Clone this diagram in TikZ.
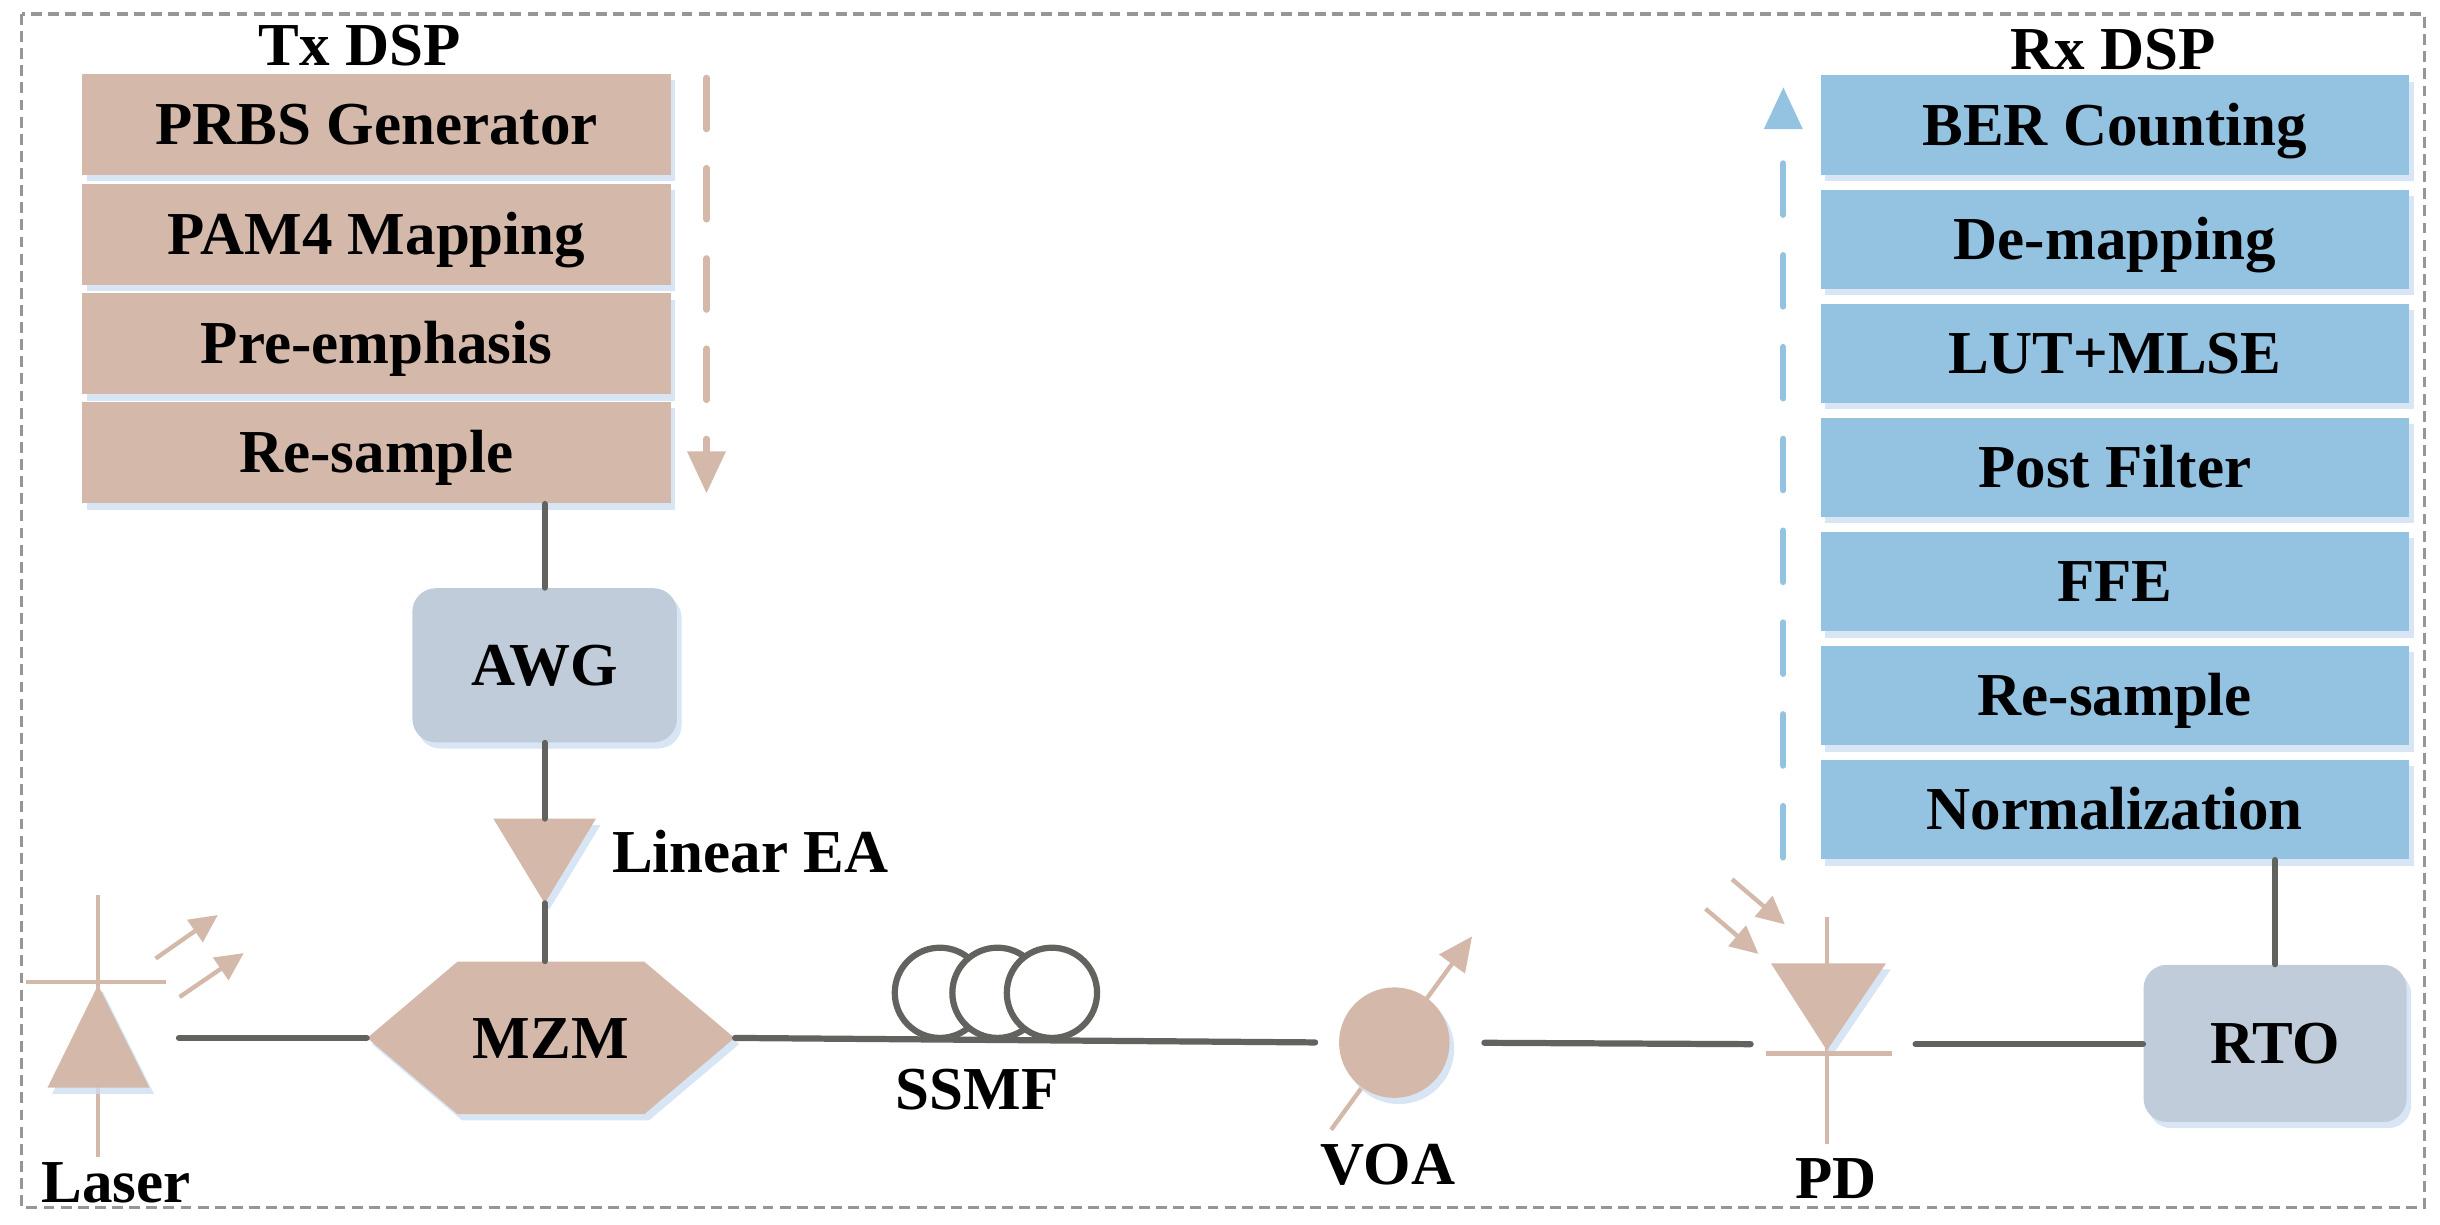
\documentclass[tikz,border=0pt]{standalone}
\usepackage{fontspec}
\setmainfont{Liberation Serif}
\usetikzlibrary{arrows.meta,shadows}
\definecolor{tan}{RGB}{212,184,170}
\definecolor{dspblue}{RGB}{148,194,225}
\definecolor{boxgray}{RGB}{193,204,218}
\definecolor{wire}{RGB}{98,99,94}
\definecolor{bordergray}{RGB}{150,150,150}
\definecolor{glow}{RGB}{205,222,242}
\begin{document}
\begin{tikzpicture}[x=0.5pt,y=-0.5pt,
  txt/.style={font=\fontsize{19.6pt}{23pt}\selectfont\bfseries, text height=12.9pt, text depth=0pt, inner sep=0pt},
  glowshadow/.style={drop shadow={shadow xshift=1.5pt, shadow yshift=-2pt, fill=glow, opacity=0.8}},
  txbox/.style={txt, fill=tan, minimum width=189pt, minimum height=32.5pt, glowshadow},
  rxbox/.style={txt, fill=dspblue, minimum width=189pt, minimum height=32pt, glowshadow},
  instr/.style={txt, fill=boxgray, rounded corners=7.5pt, glowshadow},
  conn/.style={draw=wire, line width=2pt, line cap=round},
  comp/.style={draw=tan, line width=1.4pt},
  ray/.style={draw=tan, line width=1.4pt, -{Triangle[length=9pt,width=8.5pt]}},
  coil/.style={draw=wire, fill=white, line width=2pt},
]
\useasboundingbox (0,0) rectangle (1568,787);
% outer dashed frame
\draw[draw=bordergray, line width=1pt, dash pattern=on 3.5pt off 2pt] (14,9) rectangle (1558,776);

% ---------------- Tx DSP ----------------
\node[txt] (txtitle) at (231,29) {Tx DSP};
\node[txbox] (prbs) at (242,80) {PRBS Generator};
\node[txbox] (pam) at (242,150.5) {PAM4 Mapping};
\node[txbox] (pre) at (242,221) {Pre-emphasis};
\node[txbox] (txrs) at (242,291) {Re-sample};
\coordinate (txa1) at (454,50);
\coordinate (txa2) at (454,317);
\draw[draw=tan, line width=2pt, line cap=round, dash pattern=on 16.5pt off 12.5pt,
      -{Triangle[length=13.5pt,width=12pt]}] (txa1) -- (txa2);

% AWG and amplifier
\node[instr, minimum width=85pt, minimum height=49.5pt] (awg) at (350,427.5) {AWG};
\draw[conn] (awg.north |- txrs.south) -- (awg.north);
\coordinate (eatop) at (350,526);
\coordinate (eaapex) at (350,580.5);
\fill[tan, glowshadow] (317,526) -- (383,526) -- (eaapex) -- cycle;
\draw[conn] (awg.south) -- (eatop);
\node[txt, anchor=west] (ealbl) at (393,547.5) {Linear EA};

% MZM
\fill[tan, glowshadow] (236,667) -- (294,618) -- (414,618) -- (472,667) -- (414,716) -- (294,716) -- cycle;
\node[txt, minimum width=118pt, minimum height=49pt] (mzm) at (354,667) {MZM};
\draw[conn] (eaapex) -- (eaapex |- mzm.north);

% Laser
\draw[comp] (63,575) -- (63,743.5);
\draw[comp] (17,631) -- (106.5,631);
\fill[tan, glowshadow] (63,633) -- (96,699) -- (30.5,699) -- cycle;
\draw[ray] (100,616) -- (140,588);
\draw[ray] (115.4,640.7) -- (156.7,612.5);
\coordinate (laserout) at (115,667);
\draw[conn] (laserout) -- (mzm.west);
\node[txt] (laserlbl) at (74.5,760) {Laser};

% VOA
\draw[ray, -{Triangle[length=11pt,width=10pt]}] (855.4,726) -- (946,601.7);
\node[circle, fill=tan, minimum size=35.5pt, inner sep=0pt, glowshadow] (voa) at (896,670) {};
\node[txt] (voalbl) at (892,748) {VOA};

% fibre link
\draw[conn, shorten >=7.5pt] (mzm.east) -- (voa.west);
\draw[coil] (604,638) ellipse [x radius=14.5pt, y radius=14.5pt];
\draw[coil] (641,638) ellipse [x radius=14.5pt, y radius=14.5pt];
\draw[coil] (676,638) ellipse [x radius=14.5pt, y radius=14.5pt];
\node[txt] (ssmflbl) at (628,700) {SSMF};

% PD
\draw[comp] (1174,589) -- (1174,735);
\fill[tan, glowshadow] (1138,619) -- (1212,619) -- (1174,675) -- cycle;
\draw[comp] (1135,677) -- (1216,677);
\draw[ray] (1113,565) -- (1147,594);
\draw[ray] (1096,584) -- (1130,613);
\coordinate (pdin) at (1125,671);
\coordinate (pdout) at (1231,671);
\draw[conn, shorten <=11pt] (voa.east) -- (pdin);
\node[txt] (pdlbl) at (1180,757) {PD};

% RTO
\node[instr, minimum width=84.5pt, minimum height=50.5pt] (rto) at (1462,670.5) {RTO};
\draw[conn] (pdout) -- (pdout -| rto.west);

% ---------------- Rx DSP ----------------
\node[txt] (rxtitle) at (1358,32) {Rx DSP};
\node[rxbox] (ber) at (1359,80.5) {BER Counting};
\node[rxbox] (demap) at (1359,153.8) {De-mapping};
\node[rxbox] (lut) at (1359,227.1) {LUT+MLSE};
\node[rxbox] (post) at (1359,300.4) {Post Filter};
\node[rxbox] (ffe) at (1359,373.7) {FFE};
\node[rxbox] (rxrs) at (1359,447) {Re-sample};
\node[rxbox] (norm) at (1359,520.3) {Normalization};
\draw[conn] (rto.north |- norm.south) -- (rto.north);
\coordinate (rxa1) at (1146,551);
\coordinate (rxa2) at (1146,56);
\draw[draw=dspblue, line width=2pt, line cap=round, dash pattern=on 16.5pt off 13pt,
      -{Triangle[length=13.5pt,width=12pt]}] (rxa1) -- (rxa2);
\end{tikzpicture}
\end{document}
